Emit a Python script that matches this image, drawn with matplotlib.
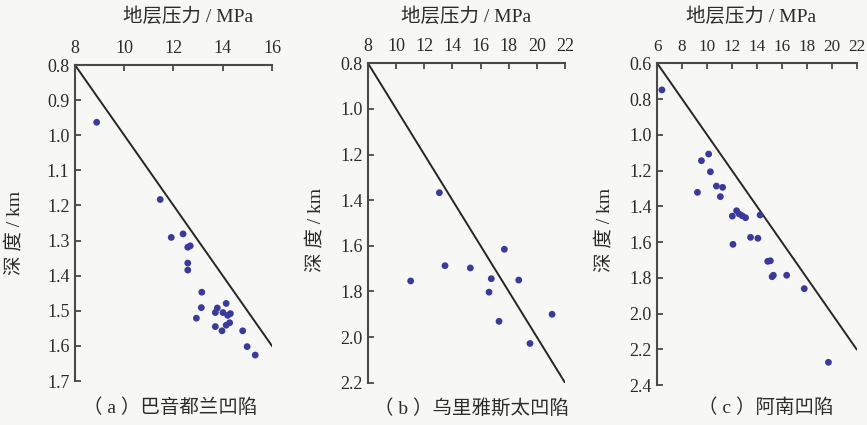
import matplotlib
matplotlib.use("Agg")
import matplotlib.pyplot as plt

plt.rcParams['font.family'] = ['Liberation Serif', 'Noto Sans CJK SC']

# 巴音都兰凹陷
pa = [8.88, 11.46, 11.91, 12.39, 12.58, 12.68, 12.58, 12.58, 13.15, 13.13, 12.93, 13.70,
      13.78, 13.70, 14.14, 14.01, 14.20, 14.31, 13.97, 14.14, 14.28, 14.81, 14.99, 15.32]
da = [0.963, 1.183, 1.291, 1.281, 1.319, 1.315, 1.364, 1.384, 1.447, 1.491, 1.521, 1.505,
      1.492, 1.545, 1.479, 1.505, 1.513, 1.508, 1.557, 1.541, 1.534, 1.557, 1.602, 1.626]
# 乌里雅斯太凹陷
pb = [13.07, 11.03, 13.47, 15.27, 17.69, 16.76, 16.60, 18.71, 17.31, 21.08, 19.51]
db = [1.367, 1.754, 1.687, 1.697, 1.615, 1.744, 1.803, 1.750, 1.931, 1.900, 2.028]
# 阿南凹陷
pc = [6.38, 9.23, 9.55, 10.13, 10.27, 10.75, 11.25, 11.07, 12.03, 12.37, 12.58, 12.82,
      13.09, 14.26, 12.08, 13.49, 14.08, 14.87, 15.08, 15.22, 15.32, 16.39, 17.80, 19.74]
dc = [0.749, 1.322, 1.145, 1.108, 1.207, 1.287, 1.294, 1.346, 1.455, 1.425, 1.443, 1.453,
      1.464, 1.449, 1.613, 1.574, 1.579, 1.708, 1.705, 1.794, 1.786, 1.786, 1.861, 2.273]

xticks_a = [8, 10, 12, 14, 16]
yticks_a = [0.8, 0.9, 1.0, 1.1, 1.2, 1.3, 1.4, 1.5, 1.6, 1.7]
xticks_b = [8, 10, 12, 14, 16, 18, 20, 22]
yticks_b = [0.8, 1.0, 1.2, 1.4, 1.6, 1.8, 2.0, 2.2]
xticks_c = [6, 8, 10, 12, 14, 16, 18, 20, 22]
yticks_c = [0.6, 0.8, 1.0, 1.2, 1.4, 1.6, 1.8, 2.0, 2.2, 2.4]

captions = ['（ a ）巴音都兰凹陷', '（ b ）乌里雅斯太凹陷', '（ c ）阿南凹陷']

bg = '#f7f7f5'
txt = '#2b2b2b'
fig = plt.figure(figsize=(8.67, 4.25), dpi=100, facecolor=bg)

panels = [
    ([0.0865, 0.1035, 0.2272, 0.7435], pa, da, xticks_a, yticks_a, 13,
     (0.574, 1.152), (-0.305, 0.468), (0.482, -0.085)),
    ([0.4245, 0.0995, 0.2272, 0.7515], pb, db, xticks_b, yticks_b, 13,
     (0.500, 1.145), (-0.269, 0.478), (0.526, -0.079)),
    ([0.7580, 0.0941, 0.2300, 0.7570], pc, dc, xticks_c, yticks_c, 12.3,
     (0.470, 1.144), (-0.262, 0.482), (0.545, -0.0715)),
]

for i, (rect, p, d, xt, yt, xs, xl, yl, cp) in enumerate(panels):
    ax = fig.add_axes(rect)
    ax.set_facecolor(bg)
    x0, x1 = xt[0], xt[-1]
    y0, y1 = yt[0], yt[-1]
    # 静水压力线 P = 10 MPa/km * h
    ax.plot([x0, x1], [x0 / 10, x1 / 10], color='#262626', lw=1.4, zorder=2)
    ax.scatter(p, d, s=24, color='#3a3a9c', edgecolors='none', zorder=3)
    ax.set_xlim(x0, x1)
    ax.set_ylim(y1, y0)
    ax.set_xticks(xt)
    ax.set_yticks(yt)
    ax.set_xticklabels([str(v) for v in xt])
    ax.set_yticklabels(['%.1f' % v for v in yt])
    ax.xaxis.tick_top()
    ax.spines['right'].set_visible(False)
    ax.spines['bottom'].set_visible(False)
    for s in ['left', 'top']:
        ax.spines[s].set_color('#4a4a4a')
        ax.spines[s].set_linewidth(1.5)
    ax.tick_params(axis='both', direction='in', length=4, width=1.3, color='#4a4a4a',
                   labelsize=13, labelcolor=txt)
    ax.tick_params(axis='x', pad=6, labelsize=xs)
    ax.tick_params(axis='y', pad=4)
    ax.text(xl[0], xl[1], '地层压力 / MPa', transform=ax.transAxes, ha='center',
            va='center', fontsize=14, color=txt)
    ax.text(yl[0], yl[1], '深 度 / km', transform=ax.transAxes, ha='center',
            va='center', rotation=90, fontsize=14, color=txt)
    ax.text(cp[0], cp[1], captions[i], transform=ax.transAxes, ha='center',
            va='center', fontsize=14, color=txt)

fig.savefig('out.png', dpi=100, facecolor=bg)
